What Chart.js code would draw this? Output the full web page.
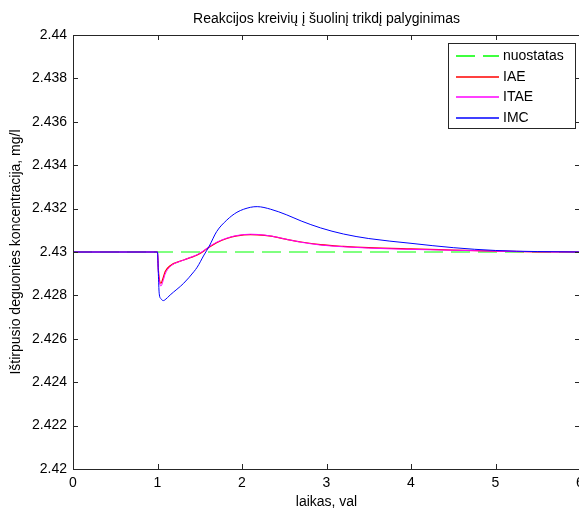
<!DOCTYPE html>
<html>
<head>
<meta charset="utf-8">
<title>Reakcijos kreivių į šuolinį trikdį palyginimas</title>
<script src="https://cdn.jsdelivr.net/npm/chart.js@4.4.1/dist/chart.umd.min.js"></script>
<style>
    html, body { margin: 0; padding: 0; background: #fff; overflow: hidden; }
    canvas { display: block; }
</style>
</head>
<body>
<canvas id="cnv-response" width="648" height="508"></canvas>
<script>
//--------------------------------------
// Data
//--------------------------------------
var timeVals = [0, 1.0, 1.01, 1.02, 1.04, 1.07, 1.09, 1.15, 1.31, 1.43, 1.47, 1.55, 1.61, 1.70,
    1.82, 1.94, 2.10, 2.18, 2.34, 2.53, 2.7, 2.93, 3.2, 3.5, 4.0, 4.5, 5.0, 5.5, 6.0];

var imcVals = [2.43, 2.43, 2.4290, 2.4281, 2.42785, 2.42776, 2.42780, 2.42802, 2.42856, 2.42909,
    2.42930, 2.42986, 2.43025, 2.43094, 2.43147, 2.43183, 2.43206, 2.43209, 2.43197, 2.43171,
    2.43143, 2.43111, 2.43083, 2.43062, 2.43040, 2.43020, 2.43007, 2.43002, 2.43000];

var iaeVals = [2.43, 2.43, 2.4292, 2.4288, 2.42856, 2.42885, 2.42909, 2.42937, 2.42963, 2.42980,
    2.42986, 2.43005, 2.43022, 2.43043, 2.43062, 2.43074, 2.43080, 2.43079, 2.43073, 2.43058,
    2.43046, 2.43034, 2.43026, 2.43020, 2.43014, 2.43009, 2.43004, 2.43001, 2.43000];

var itaeVals = [2.43, 2.43, 2.4291, 2.4287, 2.42843, 2.42872, 2.42898, 2.42933, 2.42963, 2.42981,
    2.42988, 2.43007, 2.43024, 2.43045, 2.43064, 2.43076, 2.43082, 2.43081, 2.43074, 2.43058,
    2.43045, 2.43032, 2.43024, 2.43018, 2.43012, 2.43008, 2.43004, 2.43001, 2.43000];

var setpointTime = [0, 6];
var setpointVals = [2.43, 2.43];

var seriesLabels = ['nuostatas', 'IAE', 'ITAE', 'IMC'];

var xRange = [0, 6];
var xStep = 1;
var yRange = [2.42, 2.44];
var yStep = 0.002;

(function(win){

    var fontFamily = "'Liberation Sans', Arial, Helvetica, sans-serif";
    var axisColor = '#262626';
    var tickLen = 5;
    var chartTitle = 'Reakcijos kreivių į šuolinį trikdį palyginimas';

    var init = function(){
        Chart.defaults.font.family = fontFamily;
        Chart.defaults.font.size = 14;
        Chart.defaults.color = '#000';
        setChart();
    };

    //--------------------------------------
    // Helpers
    //--------------------------------------
    var toPoints = function(xs, ys){
        var pts = [];
        for(var i = 0; i < xs.length; i++){
            pts.push({x: xs[i], y: ys[i]});
        }
        return pts;
    };

    //title centred over the plot area, not over the whole canvas
    var plotTitlePlugin = {
        id: 'plotTitle',
        afterDraw: function(chart){
            var ctx = chart.ctx;
            var area = chart.chartArea;
            ctx.save();
            ctx.font = '14px ' + fontFamily;
            ctx.fillStyle = '#000';
            ctx.textAlign = 'center';
            ctx.textBaseline = 'middle';
            ctx.fillText(chartTitle, (area.left + area.right) / 2, 19);
            ctx.restore();
        }
    };

    //box round the plot with inward tick marks on all four sides
    var axesBoxPlugin = {
        id: 'axesBox',
        afterDatasetsDraw: function(chart){
            var ctx = chart.ctx;
            var area = chart.chartArea;
            var xs = chart.scales.x;
            var ys = chart.scales.y;
            var i, px;

            ctx.save();
            ctx.strokeStyle = axisColor;
            ctx.lineWidth = 1;
            ctx.strokeRect(Math.round(area.left) + 0.5, Math.round(area.top) + 0.5,
                Math.round(area.right - area.left), Math.round(area.bottom - area.top));

            ctx.beginPath();
            for(i = 0; i < xs.ticks.length; i++){
                px = Math.round(xs.getPixelForValue(xs.ticks[i].value)) + 0.5;
                ctx.moveTo(px, area.bottom);
                ctx.lineTo(px, area.bottom - tickLen);
                ctx.moveTo(px, area.top);
                ctx.lineTo(px, area.top + tickLen);
            }
            for(i = 0; i < ys.ticks.length; i++){
                px = Math.round(ys.getPixelForValue(ys.ticks[i].value)) + 0.5;
                ctx.moveTo(area.left, px);
                ctx.lineTo(area.left + tickLen, px);
                ctx.moveTo(area.right, px);
                ctx.lineTo(area.right - tickLen, px);
            }
            ctx.stroke();
            ctx.restore();
        }
    };

    //legend box in the upper right corner of the plot
    var legendBoxPlugin = {
        id: 'legendBox',
        afterDraw: function(chart){
            var ctx = chart.ctx;
            var area = chart.chartArea;
            var sets = chart.data.datasets;
            var boxW = 127, boxH = 85;
            var boxX = Math.round(area.right) - 5 - boxW;
            var boxY = Math.round(area.top) + 8;
            var rowH = 20.7;

            ctx.save();
            ctx.fillStyle = '#fff';
            ctx.fillRect(boxX, boxY, boxW, boxH);
            ctx.strokeStyle = axisColor;
            ctx.lineWidth = 1;
            ctx.strokeRect(boxX + 0.5, boxY + 0.5, boxW, boxH);

            ctx.font = '14px ' + fontFamily;
            ctx.textBaseline = 'middle';
            ctx.textAlign = 'left';
            for(var i = 0; i < sets.length; i++){
                var ry = Math.round(boxY + 13 + i * rowH);
                ctx.beginPath();
                ctx.lineWidth = 1.3;
                ctx.strokeStyle = sets[i].borderColor;
                ctx.setLineDash(sets[i].borderDash || []);
                ctx.moveTo(boxX + 8, ry);
                ctx.lineTo(boxX + 51, ry);
                ctx.stroke();
                ctx.setLineDash([]);
                ctx.fillStyle = '#000';
                ctx.fillText(sets[i].label, boxX + 55, ry);
            }
            ctx.restore();
        }
    };

    //--------------------------------------
    // Chart
    //--------------------------------------
    var setChart = function(){
        var cnv = document.getElementById('cnv-response');
        //order: later series are drawn on top of earlier ones
        var chart = new Chart(cnv, {
            type: 'line',
            data: {
                datasets: [
                    {
                        label: seriesLabels[0],
                        data: toPoints(setpointTime, setpointVals),
                        borderColor: '#00ff00',
                        borderDash: [19, 8],
                        borderWidth: 1,
                        order: 4
                    },
                    {
                        label: seriesLabels[1],
                        data: toPoints(timeVals, iaeVals),
                        borderColor: '#ff0000',
                        borderWidth: 1.2,
                        cubicInterpolationMode: 'monotone',
                        order: 3
                    },
                    {
                        label: seriesLabels[2],
                        data: toPoints(timeVals, itaeVals),
                        borderColor: '#ff00ff',
                        borderWidth: 1,
                        cubicInterpolationMode: 'monotone',
                        order: 2
                    },
                    {
                        label: seriesLabels[3],
                        data: toPoints(timeVals, imcVals),
                        borderColor: '#0000ff',
                        borderWidth: 1,
                        cubicInterpolationMode: 'monotone',
                        order: 1
                    }
                ]
            },
            options: {
                responsive: false,
                animation: false,
                layout: {
                    padding: {left: 0, right: 68, top: 35, bottom: 0}
                },
                elements: {
                    point: {radius: 0}
                },
                plugins: {
                    legend: {display: false},
                    tooltip: {enabled: false}
                },
                scales: {
                    x: {
                        type: 'linear',
                        min: xRange[0],
                        max: xRange[1],
                        grid: {display: false, drawTicks: false},
                        border: {display: false},
                        ticks: {
                            stepSize: xStep,
                            padding: 6,
                            color: '#000',
                            maxRotation: 0,
                            autoSkip: false
                        },
                        title: {
                            display: true,
                            text: 'laikas, val',
                            color: '#000',
                            font: {size: 14, lineHeight: 1},
                            padding: {top: 0, bottom: -1}
                        },
                        afterFit: function(scale){
                            scale.height = 39;
                        }
                    },
                    y: {
                        type: 'linear',
                        min: yRange[0],
                        max: yRange[1],
                        grid: {display: false, drawTicks: false},
                        border: {display: false},
                        ticks: {
                            stepSize: yStep,
                            padding: 6,
                            color: '#000',
                            autoSkip: false,
                            callback: function(v){
                                return parseFloat(v.toFixed(3)).toString();
                            }
                        },
                        title: {
                            display: true,
                            text: 'Ištirpusio deguonies koncentracija, mg/l',
                            color: '#000',
                            font: {size: 14, lineHeight: 1},
                            padding: {top: 9, bottom: 0}
                        },
                        afterFit: function(scale){
                            scale.width = 73;
                        }
                    }
                }
            },
            plugins: [axesBoxPlugin, legendBoxPlugin, plotTitlePlugin]
        });
    };

    init();

})(window);
</script>
</body>
</html>
